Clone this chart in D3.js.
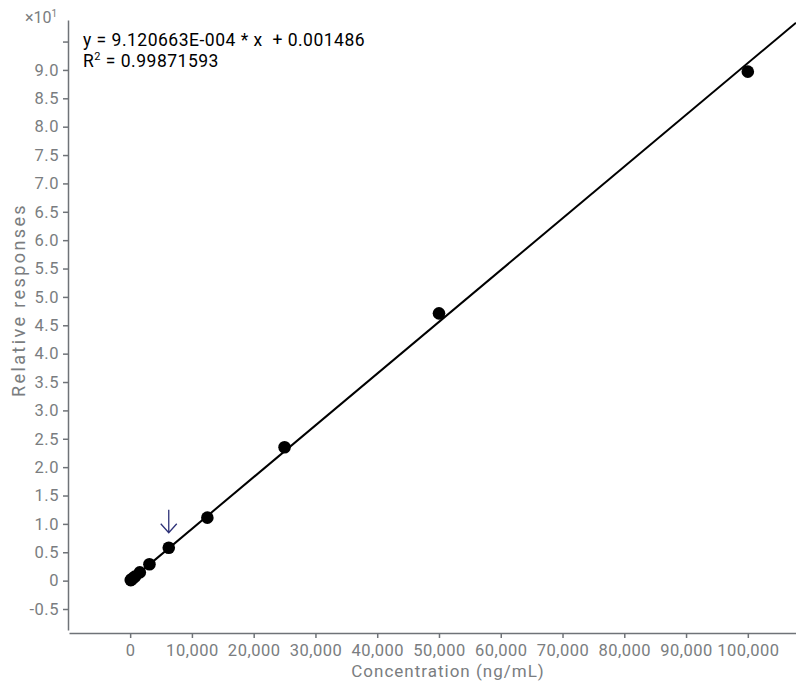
<!DOCTYPE html>
<html>
<head>
<meta charset="utf-8">
<script src="https://cdn.jsdelivr.net/npm/d3@7"></script>
<style>
  html, body { margin: 0; padding: 0; background: #fff; }
  svg { display: block; font-family: Roboto, "Noto Sans", sans-serif; }
  .axis path, .axis line { stroke: #6f7378; stroke-width: 1.5; }
  .axis text { fill: #7a7d80; font-size: 16.5px; letter-spacing: 0.5px; font-family: Roboto, sans-serif; }
</style>
</head>
<body>
<div id="chart"></div>
<script>
// calibration levels (ng/mL) and relative responses
const concentrations = [97.66, 195.3, 390.6, 781.25, 1562.5, 3125, 6250, 12500, 25000, 50000, 100000];
const responses = [0.09, 0.18, 0.36, 0.71, 1.45, 2.9, 5.8, 11.1, 23.5, 47.1, 89.7];

// linear fit from the software
const slope = 9.120663e-4;
const intercept = 0.001486;
const rSquared = "0.99871593";

const xTicks = [0, 10000, 20000, 30000, 40000, 50000, 60000, 70000, 80000, 90000, 100000];
const yTicks = [-5, 0, 5, 10, 15, 20, 25, 30, 35, 40, 45, 50, 55, 60, 65, 70, 75, 80, 85, 90, 95];
const yUnlabeled = [95];

// level marked with the arrow
const markedLevel = 6250;

const width = 796, height = 683;

const svg = d3.select("#chart").append("svg")
  .attr("width", width)
  .attr("height", height);

const x = d3.scaleLinear().domain([-9900, 107800]).range([69, 796]);
const y = d3.scaleLinear().domain([-8.7, 98.8]).range([630, 20]);

// axes
const fmtX = d3.format(",");
svg.append("g")
  .attr("class", "axis")
  .attr("transform", "translate(0,633)")
  .call(d3.axisBottom(x).tickValues(xTicks).tickSize(5).tickSizeOuter(0).tickPadding(4).tickFormat(d => fmtX(d)))
  .call(g => g.selectAll("text").attr("dy", "0.85em"));

svg.append("g")
  .attr("class", "axis")
  .attr("transform", "translate(68,0)")
  .call(d3.axisLeft(y).tickValues(yTicks).tickSize(5).tickSizeOuter(0).tickPadding(4)
    .tickFormat(d => yUnlabeled.includes(d) ? "" : (d === 0 ? "0" : (d / 10).toFixed(1))));

// multiplier
const mult = svg.append("text")
  .attr("x", 25).attr("y", 23)
  .attr("fill", "#7a7d80")
  .attr("font-size", 16);
mult.append("tspan").text("×10");
mult.append("tspan").attr("font-size", 10).attr("dy", -6).text("1");

// axis titles
svg.append("text")
  .attr("transform", "translate(25,300) rotate(-90)")
  .attr("text-anchor", "middle")
  .attr("fill", "#7a7d80")
  .attr("font-size", 18)
  .attr("letter-spacing", 2.4)
  .text("Relative responses");

svg.append("text")
  .attr("x", 448).attr("y", 677)
  .attr("text-anchor", "middle")
  .attr("fill", "#7a7d80")
  .attr("font-size", 17)
  .attr("letter-spacing", 1)
  .text("Concentration (ng/mL)");

// fit line
const xEnd = x.domain()[1];
svg.append("line")
  .attr("x1", x(0)).attr("y1", y(intercept))
  .attr("x2", x(xEnd)).attr("y2", y(slope * xEnd + intercept))
  .attr("stroke", "#000")
  .attr("stroke-width", 2);

// points
const points = concentrations.map((c, i) => ({ c, r: responses[i] }));
svg.append("g")
  .selectAll("circle")
  .data(points)
  .join("circle")
  .attr("cx", d => x(d.c))
  .attr("cy", d => y(d.r))
  .attr("r", 6.3)
  .attr("fill", "#000");

// arrow above marked level
const mi = concentrations.indexOf(markedLevel);
const ax = x(markedLevel), ay = y(responses[mi]);
svg.append("path")
  .attr("d", `M${ax},${ay - 38}V${ay - 15}M${ax - 8},${ay - 24}L${ax},${ay - 15}L${ax + 8},${ay - 24}`)
  .attr("fill", "none")
  .attr("stroke", "#2e3278")
  .attr("stroke-width", 1.3);

// equation
const eq = svg.append("text")
  .attr("x", 83).attr("y", 46)
  .attr("fill", "#000")
  .attr("font-size", 17.5)
  .attr("letter-spacing", 0.5);
eq.text(`y = ${slope.toExponential(6).replace("e-4", "E-004")} * x  + ${intercept.toFixed(6)}`)
  .attr("xml:space", "preserve").style("white-space", "pre");

const r2 = svg.append("text")
  .attr("x", 83).attr("y", 67)
  .attr("fill", "#000")
  .attr("font-size", 17.5)
  .attr("letter-spacing", 0.5);
r2.append("tspan").text("R");
r2.append("tspan").attr("font-size", 11).attr("dy", -7).text("2");
r2.append("tspan").attr("dy", 7).text(" = " + rSquared);
</script>
</body>
</html>
